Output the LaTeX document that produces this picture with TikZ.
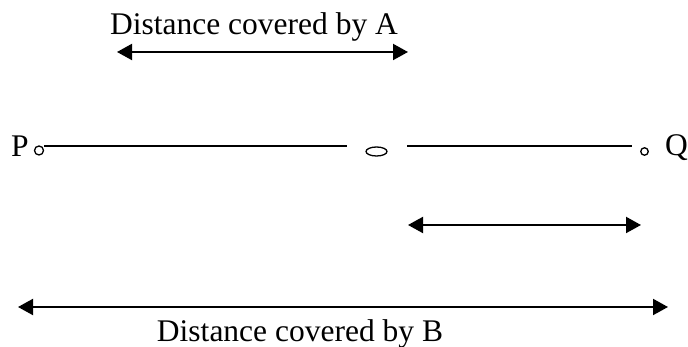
\documentclass[tikz,border=0pt]{standalone}
\usepackage{fontspec}
\setmainfont{Liberation Serif}
\usetikzlibrary{arrows.meta,shapes.geometric}
\begin{document}
\begin{tikzpicture}[x=1pt,y=1pt,
  lbl/.style={font=\fontsize{31.5}{36}\selectfont, inner sep=0pt, anchor=base},
  seg/.style={line width=1.4pt},
  dim/.style={line width=2pt, {Triangle[length=15pt,width=16pt]}-{Triangle[length=15pt,width=16pt]}},
  dot/.style={draw, line width=1.3pt, inner sep=0pt}]
\useasboundingbox (0,0) rectangle (688,347);
% labels
\node[lbl] (tA) at (254,312) {Distance covered by A};
\node[lbl] (tB) at (300,5) {Distance covered by B};
\node[lbl, anchor=base west] (P) at (11,190) {P};
\node[lbl, anchor=base west] (Q) at (665,191) {Q};
% points
\node[dot, circle, minimum size=9pt] (cP) at (39,196.5) {};
\node[dot, ellipse, minimum width=21pt, minimum height=9pt] (cM) at (376.5,195.5) {};
\node[dot, circle, minimum size=7.5pt] (cQ) at (644.5,195.5) {};
% line segments
\coordinate (s1a) at (44,201);
\coordinate (s1b) at (347,201);
\coordinate (s2a) at (407,201);
\coordinate (s2b) at (632,201);
\draw[seg] (s1a) -- (s1b);
\draw[seg] (s2a) -- (s2b);
% dimension arrows
\coordinate (aA1) at (117,295);
\coordinate (aA2) at (408,295);
\coordinate (aM1) at (408,122);
\coordinate (aM2) at (641,122);
\coordinate (aB1) at (18,40);
\coordinate (aB2) at (668,40);
\draw[dim] (aA1) -- (aA2);
\draw[dim] (aM1) -- (aM2);
\draw[dim] (aB1) -- (aB2);
\end{tikzpicture}
\end{document}
